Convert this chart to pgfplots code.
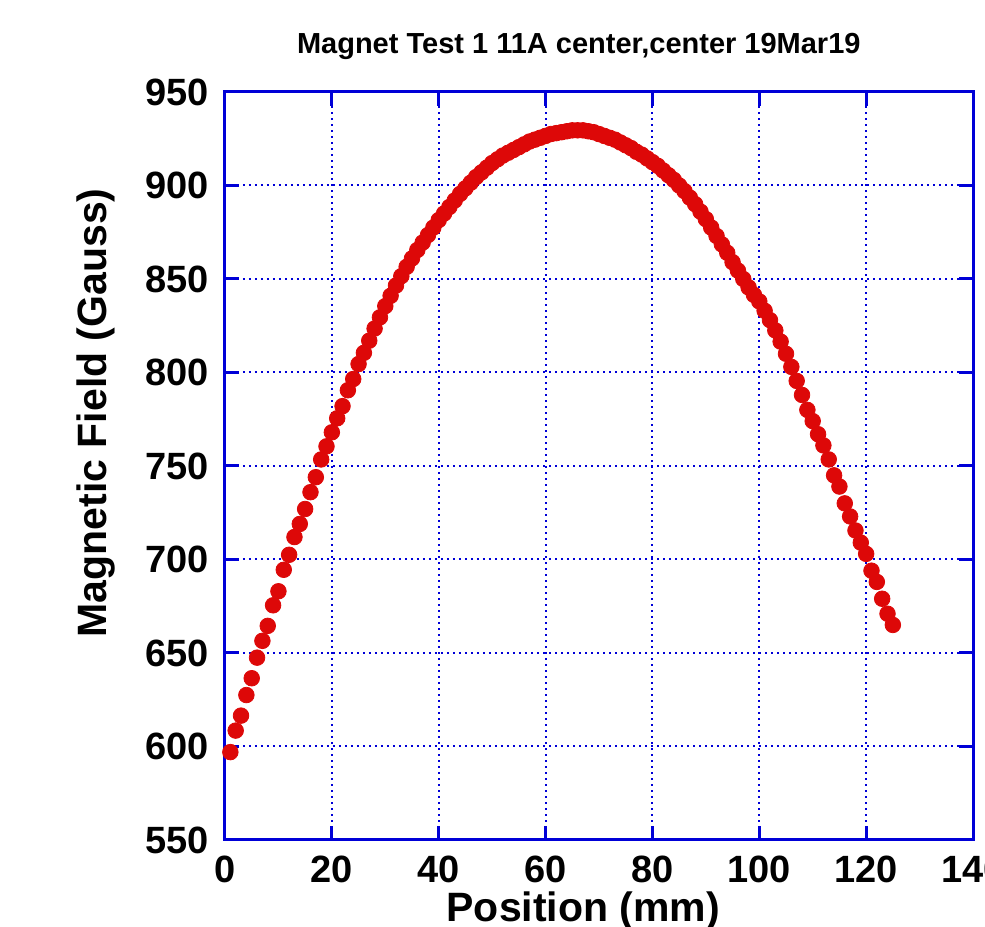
\documentclass[border=0pt]{standalone}
\usepackage{fontspec}
\setmainfont{Liberation Sans}
\usepackage{pgfplots}
\pgfplotsset{compat=1.18}
\usetikzlibrary{calc}
\definecolor{axblue}{RGB}{0,0,215}
\definecolor{dotred}{RGB}{221,8,8}

\pgfplotstableread{
x y
1 597
2 608.5
3 616.5
4 627.5
5 636.5
6 647.5
7 656.5
8 664.5
9 675.5
10 683
11 694.5
12 702.5
13 712
14 719
15 727
16 736
17 744
18 753.5
19 760.5
20 768
21 775.5
22 782
23 790.5
24 796.5
25 804.5
26 810.5
27 817
28 823.5
29 829.5
30 835.5
31 841
32 846.5
33 851.5
34 856.5
35 861
36 865.5
37 869.5
38 873.5
39 877.5
40 881.5
41 885
42 888.5
43 892
44 895.5
45 898.5
46 901.5
47 904.5
48 907
49 909.5
50 912
51 914
52 916
53 917.5
54 919
55 920.5
56 922
57 923.5
58 924.5
59 925.5
60 926.5
61 927.5
62 928
63 928.5
64 929
65 929.5
66 929.5
67 929.5
68 929
69 928.5
70 927.5
71 926.5
72 925.5
73 924.5
74 923
75 921.5
76 920
77 918
78 916.5
79 914.5
80 912.5
81 910.5
82 908
83 905.5
84 903
85 900
86 897
87 893.5
88 890
89 886
90 882
91 877.5
92 873
93 868.5
94 864
95 859
96 854.5
97 850
98 845.5
99 841.5
100 838
101 833
102 828
103 822.5
104 816.5
105 810
106 803
107 795.5
108 788
109 780
110 774
111 767
112 761
113 753.5
114 745
115 739
116 730
117 723
118 715.5
119 709
120 703
121 694
122 688
123 679
124 671
125 665
}\fielddata

\begin{document}
\begin{tikzpicture}
\begin{axis}[
  name=ax,
  scale only axis,
  width=374bp, height=374bp,
  xmin=0, xmax=140, ymin=550, ymax=950,
  xtick={0,20,...,140},
  ytick={550,600,...,950},
  axis line style={draw=axblue, line width=1.5bp},
  tick style={draw=axblue, line width=1.5bp},
  tick align=inside,
  major tick length=7bp,
  grid=major,
  major grid style={draw=axblue, line width=1bp, dash pattern=on 1.2bp off 1.8bp},
  /pgf/number format/assume math mode=true,
  tick label style={font=\bfseries\fontsize{19bp}{19bp}\selectfont},
  xticklabel style={yshift=-4.5bp},
  yticklabel style={xshift=-4.5bp},
  xlabel={Position (mm)},
  ylabel={Magnetic Field (Gauss)},
  xlabel style={font=\bfseries\fontsize{20.5bp}{20.5bp}\selectfont,
    at={(rel axis cs:0.479,-0.1096)}, anchor=base},
  ylabel style={font=\bfseries\fontsize{20.5bp}{20.5bp}\selectfont,
    at={(rel axis cs:-0.1377,0.571)}, anchor=south, rotate=0},
  title={Magnet Test 1 11A center,center 19Mar19},
  title style={font=\bfseries\fontsize{14.5bp}{14.5bp}\selectfont,
    at={(rel axis cs:0.473,1.036)}, anchor=base},
]
\addplot[only marks, mark=*, mark size=3.9bp, color=dotred,
         mark options={draw=dotred, fill=dotred}] table[x=x, y=y] {\fielddata};
\end{axis}
\pgfresetboundingbox
\path[use as bounding box] ($(ax.south west)+(-112.5bp,-43.5bp)$)
  rectangle ($(ax.north east)+(6bp,46bp)$);
\end{tikzpicture}
\end{document}
